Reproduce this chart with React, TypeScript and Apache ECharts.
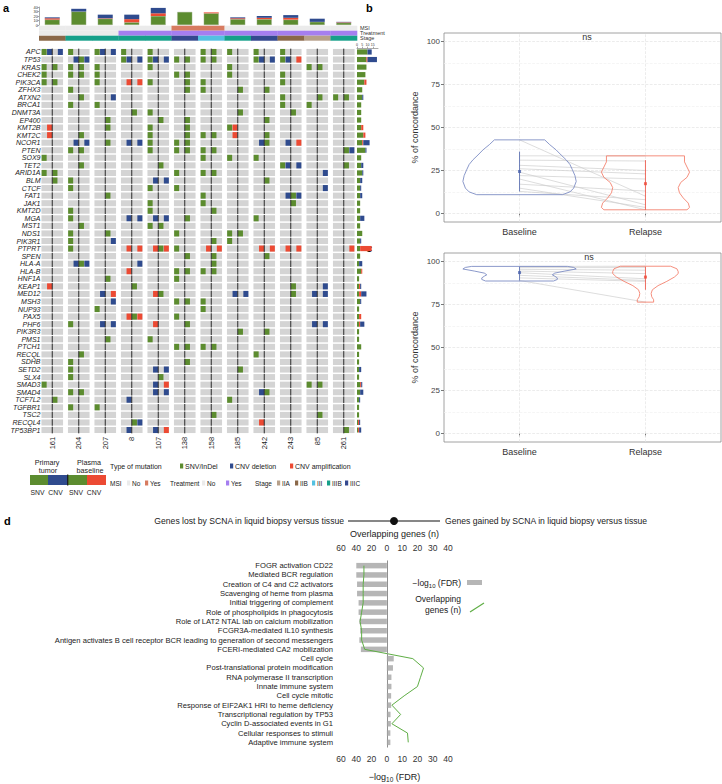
import React, { useEffect, useRef } from "react";
import * as echarts from "echarts";

const FONT = "'Liberation Sans', Arial, Helvetica, sans-serif";
const GREEN = "#5c8c2f";
const BLUE = "#2f4b8e";
const RED = "#ec4a33";
const CELL_GREY = "#d4d4d4";

// ---------------- Panel a data ----------------
const patients = ["161", "204", "207", "8", "107", "138", "158", "185", "242", "243", "85", "261"];
const genes = [
  "APC", "TP53", "KRAS", "CHEK2", "PIK3CA", "ZFHX3", "ATXN2", "BRCA1", "DNMT3A", "EP400", "KMT2B", "KMT2C",
  "NCOR1", "PTEN", "SOX9", "TET2", "ARID1A", "BLM", "CTCF", "FAT1", "JAK1", "KMT2D", "MGA", "MST1", "NDS1",
  "PIK3R1", "PTPRT", "SPEN", "HLA-A", "HLA-B", "HNF1A", "KEAP1", "MED12", "MSH3", "NUP93", "PAX5", "PHF6",
  "PIK3R3", "PMS1", "PTCH1", "RECQL", "SDHB", "SETD2", "SLX4", "SMAD3", "SMAD4", "TCF7L2", "TGFBR1", "TSC2",
  "RECQL4", "TP53BP1",
];
// per patient: [primary SNV, primary CNV, plasma SNV, plasma CNV]; G = SNV/InDel, B = CNV deletion, R = CNV amplification
const mutations = [
  "GB.B G... GB.B G... G... .... G.G. G... G... G... .... ....",
  ".... .BGB .... GB.B GB.B G.G. G.G. .... GB.B GB.R .... ....",
  "G.G. G.G. G... .... G... .... .... G... .... .... G.G. ....",
  "G... G.G. G... .... .... G.G. .... G... .... G... .... ....",
  "G.G. .... G... .R.R G... ..G. G... .... .... G... .... ....",
  ".... G... .... .... .... ..G. G... ..G. ..G. .... .... ....",
  ".... ..G. ...B .... .... .... .... .... .... G... ..G. G.G.",
  ".... G... G... .... .... .... .... .... .... G... G... ....",
  ".... .... .... ..G. G... .... .... ..G. .... ..G. .... ....",
  ".... .... ..G. .... ..G. ..G. .... .... ..G. .... .... ....",
  ".R.. .... ..G. .... G... ..G. .... GR.. .... .... .... ....",
  ".R.. ..G. .... .... G... ..G. G.G. .R.. ..G. .... .... ....",
  ".... .B.B ..G. .B.B G... G.G. .... .... .BG. .B.R .... ....",
  ".... G.G. .... .... G... G.G. G.G. .... .... .... .... ..GB",
  "G... .... .... .... .... .... G... G... G... .... .... ....",
  ".... ..G. .... .... ..G. .... .... .... .... GB.B .... ..G.",
  "G.G. .... .... .... .... G... G.G. .... .... .... ...B ....",
  "..G. G... .... .... .B.B .... .... .... ..G. .... .... ....",
  ".... G... .... .... G... G... .... .... .... .... ...B ....",
  ".... .... ..G. .... .... .... G... .... .... .BGB .... ....",
  ".... .... .... .... G... .... G... .... .... ..G. .... ....",
  ".... G... .... .... G... .... ..G. .... .... .... .... ....",
  ".... G... .... .B.B .B.B ..G. .... .... G... .... .... ....",
  ".... ..G. .... .... G.G. .... .... .... .... .... .... ....",
  ".... G... ..G. .... .... G... .... G.G. .... .... .... ....",
  ".... G... ...B .... .... .... ..G. G... .... .... .... ....",
  ".... G... .... .R.R .RGR G... .R.R .... .R.R .R.R .... ...R",
  ".... .... .... .... .... ..G. ..G. .... ..G. .... .... ....",
  ".... .BGB .... ...B .... .... ..G. .... .... .... .... ....",
  ".... .... .... .R.. .... G.G. G.G. .... .... .... .... ....",
  ".... .... ..G. .... .... G... .... .... .... .... .... ....",
  ".R.. .... .... ..G. .... .... .... .... .... ..G. ...B ....",
  ".... .... .B.R .... .RG. .... .... .B.B .... ..G. .B.B ....",
  ".... .... ...B .... .... G.G. G... .... .... .... .... ....",
  ".... .... G... .... .... .... G... .... .... .... .... ....",
  ".... .... .... .RGR .... G... .... .... .... .... .... ....",
  ".... G... .B.B .... .R.. ..G. .... .... .... .... .B.B ....",
  ".... .... .... .... .... .... .... ..G. ..G. .... .... ....",
  ".... .... ..G. .... G... .... .... .... .... .... .... ....",
  ".... .... .... .... .... G.G. G.G. .... .... .... .... ....",
  ".... ..G. .... .... .... .... .... .... G... .... .... ....",
  ".... G... .... .... .... ..G. .... .... .... .... .... ....",
  ".... G... .... .... .B.B .... .... ..G. .... .... .... ....",
  ".... G... .... .... ..G. .... .... .... .... .... .... ....",
  "G... .... .... .... .B.R .... .... .... .... .... G.G. ....",
  ".... G.G. .... .... .B.B .... .... .... .BG. .... .... ....",
  "..G. .... .... .B.. .... .... .... G... .... .... .... ....",
  ".... G... G... .... .... .... .... .... .... .... .... ....",
  ".... .... .... .... .... .... ..G. .... .... .... ..G. ....",
  ".... .... .... ..GB .... .... .... .... .R.. .... .... ....",
  ".... .... .... .B.. .B.R .... .... .... .... .... .... ..G.",
];
const msiStatus = ["No", "No", "No", "No", "No", "Yes", "Yes", "No", "No", "No", "No", "No"];
const treatmentStatus = ["No", "No", "No", "Yes", "Yes", "Yes", "Yes", "Yes", "Yes", "Yes", "Yes", "Yes"];
const stageStatus = ["IIB", "IIIB", "IIIB", "IIIB", "IIIB", "IIIC", "III", "IIIB", "IIIC", "IIB", "IIA", "IIIB"];
const annotationRows = ["MSI", "Treatment", "Stage"];
const sideTicks = [0, 5, 10, 15];

// ---------------- Panels b / c data ----------------
const concordanceTicks = [0, 25, 50, 75, 100];
const groups = ["Baseline", "Relapse"];
const bBaseViolinY = [10.9, 12.5, 14.7, 18.6, 22, 25.4, 28.5, 31.2, 34, 37, 40, 42.8];
const bBaseViolinW = [0.34, 0.4, 0.43, 0.45, 0.44, 0.42, 0.4, 0.37, 0.33, 0.29, 0.24, 0.2];
const bRelViolinY = [2.1, 3.5, 6, 9, 12, 15, 18, 21, 24, 27, 30, 33.5];
const bRelViolinW = [0.33, 0.35, 0.34, 0.3, 0.27, 0.26, 0.28, 0.33, 0.35, 0.33, 0.31, 0.31];
const bPairBase = [42.8, 33.5, 31, 28, 26, 24, 22, 20, 17, 14.7, 12.8];
const bPairRel = [10, 33.5, 30.5, 25, 23, 5, 20, 2.1, 13, 3.5, 8];
const bBaseStat = [24.4, 12.8, 36];
const bRelStat = [17.3, 2.1, 31];

const cBaseViolinY = [88.7, 89.6, 90.5, 91.5, 92.3, 93.3, 94.5, 95.7, 96.6, 97.2];
const cBaseViolinW = [0.27, 0.3, 0.3, 0.28, 0.26, 0.28, 0.36, 0.45, 0.43, 0.38];
const cRelViolinY = [76.4, 77.8, 79.5, 81.5, 83.6, 86, 88.5, 91, 93, 94.2, 95.8, 97.3];
const cRelViolinW = [0.065, 0.065, 0.05, 0.045, 0.055, 0.1, 0.17, 0.23, 0.26, 0.26, 0.25, 0.2];
const cPairBase = [97.2, 96.5, 95.5, 94.5, 93.5, 92, 90.5, 89];
const cPairRel = [97.3, 96.5, 95, 93, 90, 89, 88.5, 76.4];
const cBaseStat = [93.6, 89, 97];
const cRelStat = [91, 83.6, 97];

// ---------------- Panel d data ----------------
const lostPathways = [
  "FOGR activation CD22", "Mediated BCR regulation", "Creation of C4 and C2 activators",
  "Scavenging of heme from plasma", "Initial triggering of complement", "Role of phospholipids in phagocytosis",
  "Role of LAT2 NTAL lab on calcium mobilization", "FCGR3A-mediated IL10 synthesis",
  "Antigen activates B cell receptor BCR leading to generation of second messengers",
  "FCERI-mediated CA2 mobilization",
];
const lostFdr = [40, 40, 39, 39, 37, 37, 36, 35, 36, 34];
const lostOverlap = [30, 30, 31, 31, 31, 33, 35, 33, 33, 29];
const gainedPathways = [
  "Cell cycle", "Post-translational protein modification", "RNA polymerase II transcription",
  "Innate immune system", "Cell cycle mitotic", "Response of EIF2AK1 HRI to heme deficiency",
  "Transcriptional regulation by TP53", "Cyclin D-associated events in G1", "Cellular responses to stimuli",
  "Adaptive immune system",
];
const gainedFdr = [4.5, 4, 3, 3, 2.8, 2.8, 2.4, 2.6, 2.3, 2.3];
const gainedOverlap = [17, 24, 22, 20, 11.3, 3.3, 9, 3.3, 13.5, 14];

// ------------------------------------------------
const codeOf = (c: string) => (c === "G" ? 1 : c === "B" ? 2 : c === "R" ? 3 : 0);
const mutColors = ["", GREEN, BLUE, RED];
const msiColors: Record<string, string> = { No: "#ebebeb", Yes: "#d77b60" };
const treatColors: Record<string, string> = { No: "#ebebeb", Yes: "#a57ef0" };
const stageColors: Record<string, string> = { IIA: "#b6a08a", IIB: "#8a6849", III: "#53c1e1", IIIB: "#16a08a", IIIC: "#34498f" };

function buildOption() {
  const onco: number[][] = [];
  const geneCounts = genes.map(() => [0, 0, 0]);
  const patientCounts = patients.map(() => [0, 0, 0]);
  mutations.forEach((row, gi) => {
    row.split(" ").forEach((grp, pi) => {
      const codes = grp.split("").map(codeOf);
      onco.push([pi, gi, ...codes]);
      codes.forEach((c) => {
        if (c) {
          const k = c === 1 ? 0 : c === 3 ? 1 : 2;
          geneCounts[gi][k] += 1;
          patientCounts[pi][k] += 1;
        }
      });
    });
  });

  const annotData: number[][] = [];
  patients.forEach((_, pi) => annotationRows.forEach((_, ri) => annotData.push([pi, ri])));
  const annotColor = (pi: number, ri: number) =>
    ri === 0 ? msiColors[msiStatus[pi]] : ri === 1 ? treatColors[treatmentStatus[pi]] : stageColors[stageStatus[pi]];

  const small = { fontFamily: FONT, color: "#333" };

  const violin = (center: number, ys: number[], ws: number[]) => {
    const pts: number[][] = [];
    ys.forEach((y, i) => pts.push([center - ws[i], y]));
    for (let i = ys.length - 1; i >= 0; i--) pts.push([center + ws[i], ys[i]]);
    pts.push([center - ws[0], ys[0]]);
    return pts;
  };

  const gridLineData = () => {
    const d: any[] = [];
    for (let v = 0; v <= 100; v += 12.5) {
      d.push({ yAxis: v, lineStyle: { color: v % 25 === 0 ? "#e4e4e4" : "#f1f1f1", width: 0.7 } });
    }
    [1, 2].forEach((x) => d.push({ xAxis: x, lineStyle: { color: "#e4e4e4", width: 0.7 } }));
    return d;
  };

  const concordanceSeries = (
    ax: number,
    baseY: number[], baseW: number[], relY: number[], relW: number[],
    pairB: number[], pairR: number[], bStat: number[], rStat: number[]
  ) => {
    const s: any[] = [];
    s.push({
      type: "line", xAxisIndex: ax, yAxisIndex: ax, data: violin(1, baseY, baseW), symbol: "none",
      lineStyle: { color: "#7e8dc4", width: 0.9 }, z: 3, silent: true,
      markLine: { silent: true, symbol: "none", label: { show: false }, data: gridLineData(), z: 1 },
    });
    s.push({
      type: "line", xAxisIndex: ax, yAxisIndex: ax, data: violin(2, relY, relW), symbol: "none",
      lineStyle: { color: "#f4826f", width: 0.9 }, z: 3, silent: true,
    });
    s.push({
      type: "custom", xAxisIndex: ax, yAxisIndex: ax, z: 2, silent: true,
      data: pairB.map((b, i) => [b, pairR[i]]),
      encode: { x: -1, y: [0, 1] },
      renderItem: (p: any, api: any) => {
        const a = api.coord([1, api.value(0)]);
        const b = api.coord([2, api.value(1)]);
        return { type: "line", shape: { x1: a[0], y1: a[1], x2: b[0], y2: b[1] }, style: { stroke: "#cfcfcf", lineWidth: 0.7 } };
      },
    });
    const stat = (x: number, st: number[], color: string) => {
      s.push({
        type: "line", xAxisIndex: ax, yAxisIndex: ax, data: [[x, st[1]], [x, st[2]]], symbol: "none",
        lineStyle: { color, width: 0.8 }, z: 4, silent: true,
      });
      s.push({
        type: "scatter", xAxisIndex: ax, yAxisIndex: ax, data: [[x, st[0]]], symbol: "rect", symbolSize: 3,
        itemStyle: { color }, z: 5, silent: true,
      });
    };
    stat(1, bStat, "#4a62ab");
    stat(2, rStat, "#ee4a3a");
    return s;
  };

  const concordanceX = (gi: number) => ({
    gridIndex: gi, type: "value", min: 0.4, max: 2.6,
    axisLine: { show: false },
    axisTick: { show: true, customValues: [1, 2], length: 3, lineStyle: { color: "#777" } },
    axisLabel: { customValues: [1, 2], formatter: (v: number) => groups[v - 1], fontSize: 9, color: "#333", fontFamily: FONT, margin: 5 },
    splitLine: { show: false },
  });
  const concordanceY = (gi: number) => ({
    gridIndex: gi, type: "value", min: -5, max: 105,
    name: "% of concordance", nameLocation: "middle", nameGap: 25,
    nameTextStyle: { fontSize: 9, fontFamily: FONT, color: "#333" },
    axisLine: { show: false },
    axisTick: { show: true, customValues: concordanceTicks, length: 3, lineStyle: { color: "#777" } },
    axisLabel: { customValues: concordanceTicks, fontSize: 8, color: "#444", fontFamily: FONT, margin: 4 },
    splitLine: { show: false },
  });

  const pathways = [...lostPathways, ...gainedPathways];
  const dBars = [...lostFdr.map((v) => -v / 2), ...gainedFdr];
  const dLine = [...lostOverlap.map((v, i) => [-v / 2, i]), ...gainedOverlap.map((v, i) => [v, i + lostPathways.length])];
  const dLabel = (v: number) => String(v < 0 ? -v * 2 : v);

  const option: any = {
    animation: false,
    textStyle: { fontFamily: FONT },
    grid: [
      { left: 39, top: 48.2, width: 318, height: 385.6 },
      { left: 39, top: 7, width: 318, height: 18 },
      { left: 39, top: 25.7, width: 318, height: 15 },
      { left: 357, top: 48.2, width: 21, height: 385.6 },
      { left: 444, top: 33, width: 277, height: 189, show: true, borderColor: "#8c8c8c", borderWidth: 0.8 },
      { left: 444, top: 253, width: 277, height: 189, show: true, borderColor: "#8c8c8c", borderWidth: 0.8 },
      { left: 341, top: 561, width: 107, height: 192 },
    ],
    xAxis: [
      {
        gridIndex: 0, type: "category", data: patients, position: "bottom",
        axisLine: { show: false }, axisTick: { show: false },
        axisLabel: { interval: 0, rotate: 90, fontSize: 7.5, margin: 3, color: "#222", fontFamily: FONT },
      },
      { gridIndex: 1, type: "category", data: patients, show: false },
      { gridIndex: 2, type: "category", data: patients, show: false },
      {
        gridIndex: 3, type: "value", position: "top", min: 0, max: 20,
        axisLine: { show: true, lineStyle: { color: "#555", width: 0.5 } },
        axisTick: { show: true, customValues: sideTicks, length: 1.5, lineStyle: { width: 0.5 } },
        axisLabel: { customValues: sideTicks, fontSize: 3.5, margin: 1, ...small },
        splitLine: { show: false },
      },
      concordanceX(4),
      concordanceX(5),
      {
        gridIndex: 6, type: "value", position: "bottom", min: -30, max: 40, interval: 10,
        axisLine: { show: false }, axisTick: { show: false },
        axisLabel: { formatter: dLabel, fontSize: 8.5, color: "#333", fontFamily: FONT, margin: 7 },
        splitLine: { show: false },
        name: "−log{sub|10} (FDR)", nameLocation: "middle", nameGap: 24,
        nameTextStyle: {
          fontSize: 9, color: "#222", fontFamily: FONT,
          rich: { sub: { fontSize: 6.5, verticalAlign: "bottom", padding: [5, 0, 0, 0], fontFamily: FONT } },
        },
      },
      {
        gridIndex: 6, type: "value", position: "top", min: -30, max: 40, interval: 10,
        axisLine: { show: false }, axisTick: { show: false },
        axisLabel: { formatter: dLabel, fontSize: 8.5, color: "#333", fontFamily: FONT, margin: 9 },
        splitLine: { show: false },
        name: "Overlapping genes (n)", nameLocation: "middle", nameGap: 23,
        nameTextStyle: { fontSize: 9, color: "#222", fontFamily: FONT },
      },
    ],
    yAxis: [
      {
        gridIndex: 0, type: "category", data: genes, inverse: true,
        axisLine: { show: false }, axisTick: { show: false },
        axisLabel: { interval: 0, fontSize: 7, fontStyle: "italic", color: "#222", fontFamily: FONT, margin: -1.5 },
      },
      {
        gridIndex: 1, type: "value", min: 0, max: 40, interval: 10,
        axisLine: { show: true, lineStyle: { color: "#555", width: 0.5 } },
        axisTick: { show: true, length: 1.5, lineStyle: { width: 0.5 } },
        axisLabel: { fontSize: 4, margin: 1, ...small },
        splitLine: { show: false },
      },
      {
        gridIndex: 2, type: "category", data: annotationRows, inverse: true, position: "right",
        axisLine: { show: false }, axisTick: { show: false },
        axisLabel: { interval: 0, fontSize: 5.5, margin: 3, ...small },
      },
      { gridIndex: 3, type: "category", data: genes, inverse: true, show: false },
      concordanceY(4),
      concordanceY(5),
      {
        gridIndex: 6, type: "category", data: pathways, inverse: true,
        axisLine: { show: true, lineStyle: { color: "#444", width: 0.8 } }, axisTick: { show: false },
        axisLabel: { interval: 0, fontSize: 7.6, color: "#222", fontFamily: FONT, margin: 8 },
      },
    ],
    series: [
      {
        type: "custom", xAxisIndex: 0, yAxisIndex: 0, data: onco, silent: true,
        encode: { x: 0, y: 1 },
        renderItem: (p: any, api: any) => {
          const pi = api.value(0);
          const gi = api.value(1);
          const c = api.coord([pi, gi]);
          const sz = api.size([1, 1]);
          const bw = sz[0] * 0.815;
          const h = sz[1] * 0.8;
          const x0 = c[0] - bw / 2;
          const y0 = c[1] - h / 2;
          const sw = bw / 4;
          const children: any[] = [{ type: "rect", shape: { x: x0, y: y0, width: bw, height: h }, style: { fill: CELL_GREY } }];
          for (let s = 0; s < 4; s++) {
            const code = api.value(2 + s);
            if (code) children.push({ type: "rect", shape: { x: x0 + s * sw + 0.2, y: y0, width: sw - 0.4, height: h }, style: { fill: mutColors[code] } });
          }
          children.push({ type: "line", shape: { x1: c[0], y1: y0 - 0.3, x2: c[0], y2: y0 + h + 0.3 }, style: { stroke: "#2b2b2b", lineWidth: 1 } });
          return { type: "group", children };
        },
      },
      ...[0, 1, 2].map((k) => ({
        type: "bar", xAxisIndex: 1, yAxisIndex: 1, stack: "patient", barWidth: 15, silent: true,
        data: patientCounts.map((c) => c[k]),
        itemStyle: { color: [GREEN, RED, BLUE][k], borderColor: "#a9b79a", borderWidth: k === 0 ? 0.4 : 0 },
      })),
      {
        type: "custom", xAxisIndex: 2, yAxisIndex: 2, data: annotData, silent: true,
        encode: { x: 0, y: 1 },
        renderItem: (p: any, api: any) => {
          const pi = api.value(0);
          const ri = api.value(1);
          const c = api.coord([pi, ri]);
          const sz = api.size([1, 1]);
          return {
            type: "rect",
            shape: { x: c[0] - sz[0] / 2, y: c[1] - sz[1] / 2, width: sz[0] + 0.3, height: sz[1] },
            style: { fill: annotColor(pi, ri) },
          };
        },
      },
      ...[0, 1, 2].map((k) => ({
        type: "bar", xAxisIndex: 3, yAxisIndex: 3, stack: "gene", barWidth: 5.2, silent: true,
        data: geneCounts.map((c) => c[k]),
        itemStyle: { color: [GREEN, RED, BLUE][k] },
      })),
      ...concordanceSeries(4, bBaseViolinY, bBaseViolinW, bRelViolinY, bRelViolinW, bPairBase, bPairRel, bBaseStat, bRelStat),
      ...concordanceSeries(5, cBaseViolinY, cBaseViolinW, cRelViolinY, cRelViolinW, cPairBase, cPairRel, cBaseStat, cRelStat),
      {
        type: "bar", xAxisIndex: 6, yAxisIndex: 6, data: dBars, barWidth: 5.5, silent: true,
        itemStyle: { color: "#b6b6b6" },
        markLine: { silent: true, symbol: "none", label: { show: false }, lineStyle: { color: "#9a9a9a", width: 0.8, type: "solid" }, data: [{ xAxis: 0 }] },
      },
      {
        type: "line", xAxisIndex: 6, yAxisIndex: 6, data: dLine, symbol: "none", silent: true,
        lineStyle: { color: "#5fae45", width: 1 }, z: 4,
      },
    ],
    graphic: [] as any[],
  };

  const g = option.graphic;
  const t = (x: number, y: number, text: string, extra: any = {}) =>
    g.push({ type: "text", x, y, silent: true, style: { text, fontFamily: FONT, fontSize: 7, fill: "#222", align: "left", verticalAlign: "middle", ...extra } });
  const box = (x: number, y: number, w: number, h: number, fill: string) =>
    g.push({ type: "rect", silent: true, shape: { x, y, width: w, height: h }, style: { fill } });

  // panel letters
  t(3, 8, "a", { fontSize: 11, fontWeight: "bold", fill: "#000" });
  t(366, 8, "b", { fontSize: 11, fontWeight: "bold", fill: "#000" });
  t(366, 248, "c", { fontSize: 11, fontWeight: "bold", fill: "#000" });
  t(4, 521, "d", { fontSize: 11, fontWeight: "bold", fill: "#000" });

  // ns labels
  t(587, 37, "ns", { fontSize: 9, align: "center", fill: "#333" });
  t(589, 257, "ns", { fontSize: 9, align: "center", fill: "#333" });

  // panel a legend
  t(47, 462, "Primary", { align: "center", fontSize: 7.2 });
  t(48, 470.5, "tumor", { align: "center", fontSize: 7.2 });
  t(89, 462, "Plasma", { align: "center", fontSize: 7.2 });
  t(90, 470.5, "baseline", { align: "center", fontSize: 7.2 });
  box(30, 475, 18, 10, GREEN);
  box(48, 475, 19.5, 10, BLUE);
  box(68, 475, 19, 10, GREEN);
  box(87, 475, 19, 10, RED);
  g.push({ type: "line", silent: true, shape: { x1: 67.7, y1: 474.5, x2: 67.7, y2: 485.5 }, style: { stroke: "#111", lineWidth: 1.2 } });
  t(37.5, 492, "SNV", { align: "center", fontSize: 6.8 });
  t(55.5, 492, "CNV", { align: "center", fontSize: 6.8 });
  t(76, 492, "SNV", { align: "center", fontSize: 6.8 });
  t(94, 492, "CNV", { align: "center", fontSize: 6.8 });

  t(110, 466, "Type of mutation", { fontSize: 7 });
  const legItem = (x: number, y: number, color: string, label: string, fs = 7) => {
    box(x, y - 2.5, 3.2, 5, color);
    t(x + 5, y, label, { fontSize: fs });
  };
  legItem(180, 466, GREEN, "SNV/InDel");
  legItem(230, 466, BLUE, "CNV deletion");
  legItem(290, 466, RED, "CNV amplification");

  t(110, 483, "MSI", { fontSize: 6.5 });
  legItem(127, 483, msiColors.No, "No", 6.5);
  legItem(145, 483, msiColors.Yes, "Yes", 6.5);
  t(170, 483, "Treatment", { fontSize: 6.5 });
  legItem(202, 483, treatColors.No, "No", 6.5);
  legItem(226, 483, treatColors.Yes, "Yes", 6.5);
  t(255, 483, "Stage", { fontSize: 6.5 });
  const stageKeys = ["IIA", "IIB", "III", "IIIB", "IIIC"];
  const stageX = [277, 295, 312, 327, 345];
  stageKeys.forEach((k, i) => legItem(stageX[i], 483, stageColors[k], k, 6.5));

  // panel d header
  t(344, 521, "Genes lost by SCNA in liquid biopsy versus tissue", { align: "right", fontSize: 8.6 });
  g.push({ type: "line", silent: true, shape: { x1: 348, y1: 521, x2: 440, y2: 521 }, style: { stroke: "#111", lineWidth: 1.2 } });
  g.push({ type: "circle", silent: true, shape: { cx: 394, cy: 521, r: 4 }, style: { fill: "#111" } });
  t(445, 521, "Genes gained by SCNA in liquid biopsy versus tissue", { align: "left", fontSize: 8.6 });

  // panel d legend
  g.push({
    type: "text", x: 461, y: 583, silent: true,
    style: {
      text: "−log{s|10} (FDR)", fontFamily: FONT, fontSize: 8.5, fill: "#222", align: "right", verticalAlign: "middle",
      rich: { s: { fontSize: 6, fontFamily: FONT, fill: "#222", padding: [5, 0, 0, 0] } },
    },
  });
  box(467, 580, 15, 5, "#b6b6b6");
  t(461, 599, "Overlapping", { align: "right", fontSize: 8.5 });
  t(461, 609.5, "genes (n)", { align: "right", fontSize: 8.5 });
  g.push({ type: "line", silent: true, shape: { x1: 470, y1: 612, x2: 484, y2: 603 }, style: { stroke: "#5fae45", lineWidth: 1.2 } });

  return option;
}

export default function App() {
  const ref = useRef<HTMLDivElement>(null);
  useEffect(() => {
    if (!ref.current) return;
    const chart = echarts.init(ref.current, null, { renderer: "svg" });
    chart.setOption(buildOption());
    return () => chart.dispose();
  }, []);
  return (
    <div
      ref={ref}
      style={{ position: "absolute", left: 0, top: 0, width: 722, height: 784, background: "#fff" }}
    />
  );
}
